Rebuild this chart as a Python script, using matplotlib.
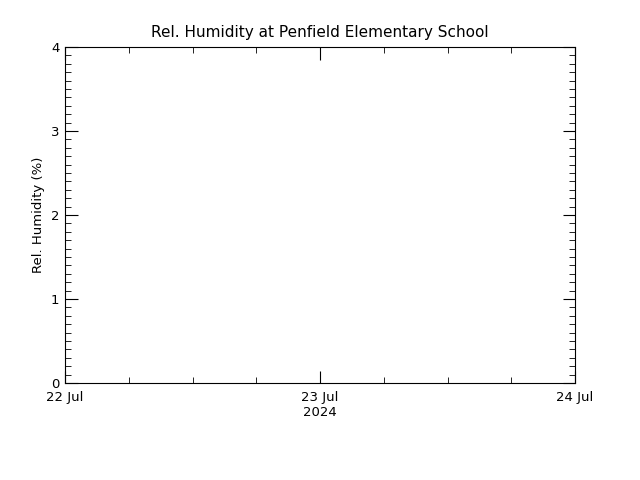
import matplotlib
matplotlib.use("Agg")
import matplotlib.pyplot as plt
from matplotlib.ticker import MultipleLocator

title = "Rel. Humidity at Penfield Elementary School"
ylabel = "Rel. Humidity (%)"
x_major = [0, 1, 2]  # days since 22 Jul 2024
x_labels = ["22 Jul", "23 Jul\n2024", "24 Jul"]
y_major = [0, 1, 2, 3, 4]
times = []
values = []

fig = plt.figure(figsize=(6.4, 4.8), dpi=100)
ax = fig.add_axes([65/640, 1-383/480, 510/640, 336/480])
ax.plot(times, values, color="black")
ax.set_xlim(0, 2)
ax.set_ylim(0, 4)
ax.set_xticks(x_major)
ax.set_xticklabels(x_labels, fontsize=9.5)
ax.xaxis.set_minor_locator(MultipleLocator(0.25))
ax.set_yticks(y_major)
ax.yaxis.set_minor_locator(MultipleLocator(0.1))
ax.tick_params(which="both", direction="in", top=True, right=True, labelsize=9.5, color="black")
ax.tick_params(which="major", length=9)
ax.tick_params(which="minor", length=4.5)
ax.tick_params(axis="x", pad=6)
ax.tick_params(axis="y", pad=4)
for s in ax.spines.values():
    s.set_linewidth(0.8)
ax.set_ylabel(ylabel, fontsize=9.5)
ax.set_title(title, fontsize=11, pad=7)
fig.savefig("out.png", dpi=100, facecolor="white")
